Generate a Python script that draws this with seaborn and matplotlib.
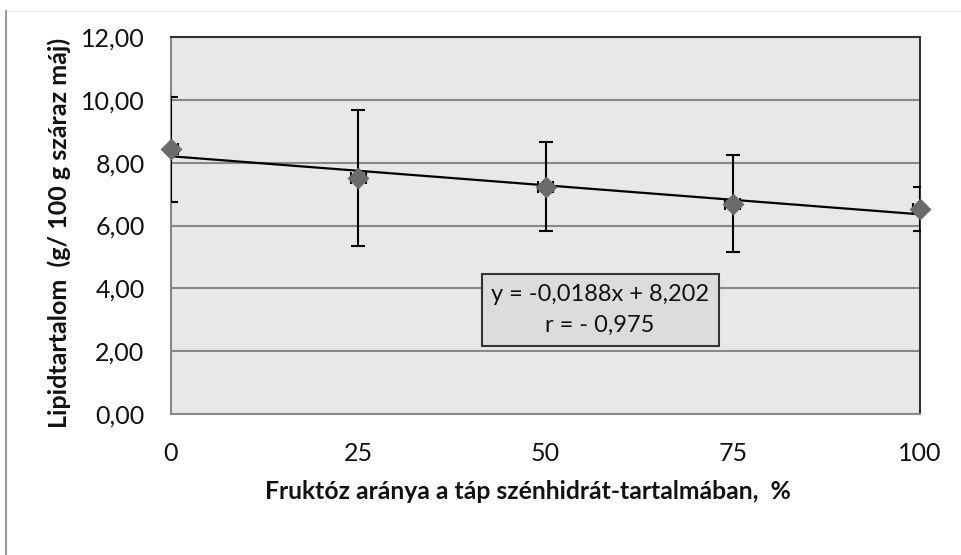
import matplotlib
matplotlib.use("Agg")
import matplotlib.pyplot as plt
import seaborn as sns
import pandas as pd
from matplotlib.patches import Rectangle
from matplotlib.ticker import FuncFormatter

# ---- data ----
fructose_pct = [0, 25, 50, 75, 100]
lipid_mean = [8.42, 7.52, 7.24, 6.70, 6.52]
lipid_err = [1.68, 2.16, 1.43, 1.53, 0.71]
fructose_err = [1, 1, 1, 1, 1]
x_ticks = [0, 25, 50, 75, 100]
y_ticks = [0, 2, 4, 6, 8, 10, 12]
eq_text = "y = -0,0188x + 8,202\nr = - 0,975"
x_label = "Fruktóz aránya a táp szénhidrát-tartalmában,  %"
y_label = "Lipidtartalom  (g/ 100 g száraz máj)"

df = pd.DataFrame({"x": fructose_pct, "y": lipid_mean})

sns.set_style("white")
FONT = ["Lato", "DejaVu Sans"]
plt.rcParams["font.family"] = FONT

fig = plt.figure(figsize=(9.61, 5.55), dpi=100)
W, H = 961, 555
ax = fig.add_axes([171 / W, 1 - 414 / H, (920 - 171) / W, (414 - 37) / H])

# outer chart border (partially visible)
fig.patches.append(Rectangle((6 / W, -0.01), 1.1, 1 - 11 / H + 0.01, transform=fig.transFigure,
                             fill=False, edgecolor="#e6e6e6", linewidth=1.0, zorder=0))
fig.lines.append(plt.Line2D([6 / W, 6 / W], [0, 1 - 11 / H], transform=fig.transFigure,
                            color="#9a9a9a", linewidth=1.5))

ax.set_facecolor("#E8E8E8")
ax.set_xlim(0, 100)
ax.set_ylim(0, 12)
ax.set_yticks(y_ticks)
ax.set_xticks(x_ticks)
ax.yaxis.set_major_formatter(FuncFormatter(lambda v, p: f"{v:.2f}".replace(".", ",")))
ax.xaxis.set_major_formatter(FuncFormatter(lambda v, p: f"{int(v)}"))
ax.grid(axis="y", color="#888888", linewidth=1.5)
ax.set_axisbelow(True)

for s in ["top", "right"]:
    ax.spines[s].set_color("#333333")
    ax.spines[s].set_linewidth(1.5)
for s in ["left", "bottom"]:
    ax.spines[s].set_color("#888888")
    ax.spines[s].set_linewidth(1.5)

ax.tick_params(axis="both", direction="out", length=6, width=1.5, color="#888888",
               labelsize=18, labelcolor="#111111")
ax.tick_params(axis="y", pad=13)
ax.tick_params(axis="x", pad=14)

# error bars
ax.errorbar(fructose_pct, lipid_mean, yerr=lipid_err, fmt="none", ecolor="black",
            elinewidth=1.5, capsize=5, capthick=1.5, zorder=3)
ax.errorbar(fructose_pct, lipid_mean, xerr=fructose_err, fmt="none", ecolor="black",
            elinewidth=1.5, capsize=4, capthick=1.5, zorder=3)

# trend line
sns.regplot(data=df, x="x", y="y", ax=ax, scatter=False, ci=None,
            line_kws=dict(color="black", linewidth=1.6, zorder=4))

# markers
sns.scatterplot(data=df, x="x", y="y", ax=ax, marker="D", s=125, color="#6b6b6b",
                edgecolor="#6b6b6b", linewidth=0, zorder=5, clip_on=False)

ax.set_xlabel(x_label, fontsize=17.8, fontweight="bold", labelpad=11, color="#111111",
              x=0.477)
ax.set_ylabel(y_label, fontsize=18, fontweight="bold", labelpad=7, color="#111111",
              y=0.48)

ax.text(57.3, 3.31, eq_text, ha="center", va="center", fontsize=17, linespacing=1.6,
        color="#111111", zorder=6,
        bbox=dict(boxstyle="square,pad=0.4", facecolor="#DCDCDC", edgecolor="#333333",
                  linewidth=1.5))

fig.savefig("out.png", dpi=100)
